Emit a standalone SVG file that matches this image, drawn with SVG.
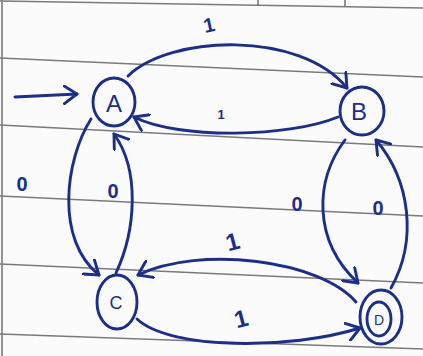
<svg xmlns="http://www.w3.org/2000/svg" width="423" height="356" viewBox="0 0 423 356">
<defs>
<style>
.paper{stroke:#7a7a7a;stroke-width:1.6;fill:none}
.ink{stroke:#1c2f88;stroke-width:2.9;fill:none;stroke-linecap:round;stroke-linejoin:round}
.lbl{font-family:"Liberation Sans",Arial,sans-serif;fill:#1c2f88;text-anchor:middle;font-weight:bold}
.node{font-family:"Liberation Sans",Arial,sans-serif;fill:#1c2f88;text-anchor:middle;dominant-baseline:central}
</style>
<marker id="arr" viewBox="-14 -10 16 20" markerWidth="16" markerHeight="20" refX="0" refY="0" orient="auto" markerUnits="userSpaceOnUse">
<path d="M-13,-9 L0,0 L-13,9" fill="none" stroke="#1c2f88" stroke-width="2.9" stroke-linecap="round" stroke-linejoin="round"/>
</marker>
</defs>
<rect width="423" height="356" fill="#fbfbfb"/>
<g id="paper">
<path class="paper" d="M0,1 L423,8 M258,0 L258,5 M345,0 L345,6 M2,0 L2,356"/>
<path class="paper" d="M0,58 L423,77 M0,125 L423,147 M0,196 L423,216 M0,264 L423,283 M0,334 L423,349"/>
</g>
<g id="connectors">
<path class="ink" d="M15,97 L77,94" marker-end="url(#arr)"/>
<path class="ink" d="M128,76 C170,35 300,30 347,88" marker-end="url(#arr)"/>
<path class="ink" d="M338,117 C290,137 180,140 134,117" marker-end="url(#arr)"/>
<path class="ink" d="M91,119 C65,160 55,240 99,275" marker-end="url(#arr)"/>
<path class="ink" d="M116,273 C136,230 140,170 114,134" marker-end="url(#arr)"/>
<path class="ink" d="M345,140 C315,180 312,240 358,283" marker-end="url(#arr)"/>
<path class="ink" d="M391,288 C418,240 410,180 376,140" marker-end="url(#arr)"/>
<path class="ink" d="M356,302 C320,260 200,245 138,275" marker-end="url(#arr)"/>
<path class="ink" d="M137,319 C170,350 290,350 360,328" marker-end="url(#arr)"/>
</g>
<g id="labels">
<text class="lbl" x="209" y="32" font-size="20" transform="rotate(-12 209 25)">1</text>
<text class="lbl" x="221" y="119" font-size="13">1</text>
<text class="lbl" x="22" y="191" font-size="20">0</text>
<text class="lbl" x="113" y="198" font-size="20">0</text>
<text class="lbl" x="297" y="211" font-size="20">0</text>
<text class="lbl" x="378" y="215" font-size="20">0</text>
<text class="lbl" x="232" y="250" font-size="24" transform="rotate(-15 232 240)">1</text>
<text class="lbl" x="241" y="327" font-size="24" transform="rotate(-15 241 318)">1</text>
</g>
<g id="A">
<ellipse class="ink" cx="114" cy="102" rx="21" ry="24"/>
<text class="node" x="114" y="103" font-size="24">A</text>
</g>
<g id="B">
<ellipse class="ink" cx="362" cy="111" rx="22" ry="24"/>
<text class="node" x="359" y="111" font-size="24">B</text>
</g>
<g id="C">
<ellipse class="ink" cx="117" cy="302" rx="20" ry="27"/>
<text class="node" x="116" y="303" font-size="18">C</text>
</g>
<g id="D">
<ellipse class="ink" cx="381" cy="317" rx="21" ry="27"/>
<ellipse class="ink" cx="379" cy="319" rx="12" ry="17"/>
<text class="node" x="379" y="320" font-size="14">D</text>
</g>
</svg>
